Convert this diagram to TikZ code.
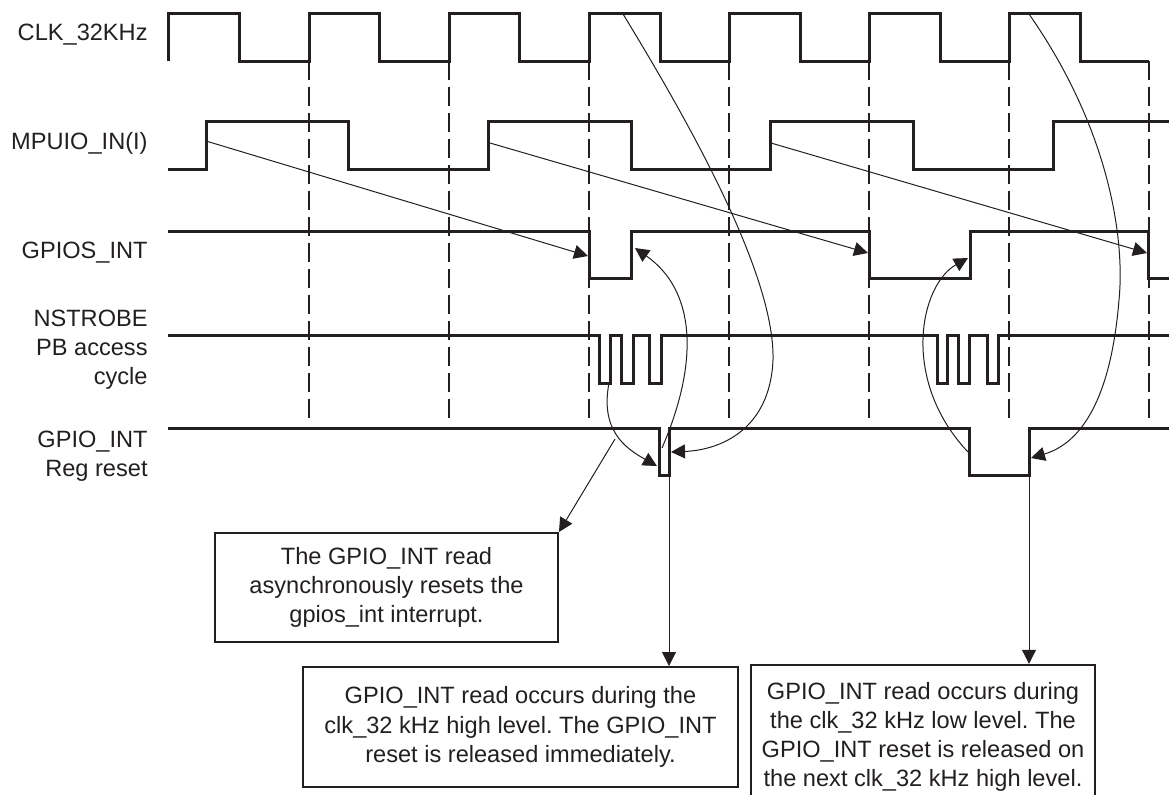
\documentclass[tikz,border=0pt]{standalone}
\usepackage{fontspec}
\setmainfont{Liberation Sans}
\usetikzlibrary{arrows.meta}
\definecolor{rInk}{RGB}{35,31,32}
\frenchspacing

\begin{document}
\begin{tikzpicture}[
			x=0.5pt,y=-0.5pt,
			font=\fontsize{11.8pt}{14.6pt}\selectfont,
			sig/.style={draw=rInk,line width=1.5pt},
			gl/.style={draw=rInk,line width=0.7pt,dash pattern=on 9.5pt off 3.5pt},
			lab/.style={anchor=east,align=right,inner sep=0pt,text=rInk},
			note/.style={draw=rInk,line width=1pt,align=center,inner sep=0pt,text=rInk},
			lnk/.style={draw=rInk,line width=0.5pt,-{Triangle[length=7pt,width=7pt]}}
			]
			\useasboundingbox (0,0) rectangle (1169,794);
			\node[lab](clk) at (148,35) {CLK\_32KHz};
			\node[lab](mpu) at (148,143) {MPUIO\_IN(I)};
			\node[lab](gps) at (148,253) {GPIOS\_INT};
			\node[lab](nst) at (148,350) {NSTROBE\\PB access\\cycle};
			\node[lab](rst) at (148,456) {GPIO\_INT\\Reg reset};
			\draw[gl] (309,61) -- (309,423);
			\draw[gl] (449,61) -- (449,423);
			\draw[gl] (589,61) -- (589,423);
			\draw[gl] (729,61) -- (729,423);
			\draw[gl] (869,61) -- (869,423);
			\draw[gl] (1009,61) -- (1009,423);
			\draw[gl] (1149,61) -- (1149,423);
			\draw[sig] (168,61) -- (168,13) -- (239,13) -- (239,61) -- (309,61) -- (309,13) -- (379,13) -- (379,61)
				-- (449,61) -- (449,13) -- (519,13) -- (519,61) -- (589,61) -- (589,13) -- (660,13) -- (660,61)
				-- (729,61) -- (729,13) -- (800,13) -- (800,61) -- (869,61) -- (869,13) -- (940,13) -- (940,61)
				-- (1009,61) -- (1009,13) -- (1080,13) -- (1080,61) -- (1149,61);
			\draw[sig] (168,169) -- (206,169) -- (206,121) -- (348,121) -- (348,169) -- (488,169) -- (488,121)
				-- (631,121) -- (631,169) -- (770,169) -- (770,121) -- (913,121) -- (913,169) -- (1053,169)
				-- (1053,121) -- (1169,121);
			\draw[sig] (168,231) -- (589,231) -- (589,278) -- (631,278) -- (631,231) -- (869,231) -- (869,278)
				-- (970,278) -- (970,231) -- (1148,231) -- (1148,278) -- (1169,278);
			\draw[sig] (168,335) -- (599,335) -- (599,383) -- (610,383) -- (610,335) -- (621,335) -- (621,383)
				-- (633,383) -- (633,335) -- (649,335) -- (649,383) -- (661,383) -- (661,335) -- (937,335)
				-- (937,383) -- (947,383) -- (947,335) -- (958,335) -- (958,383) -- (969,383) -- (969,335)
				-- (987,335) -- (987,383) -- (998,383) -- (998,335) -- (1169,335);
			\draw[sig] (168,428) -- (659,428) -- (659,475) -- (669,475) -- (669,428) -- (969,428) -- (969,475)
				-- (1029,475) -- (1029,428) -- (1169,428);
			\node[note,minimum width=171.5pt,minimum height=54.5pt](a) at (386.5,587.5) {
				The GPIO\_INT read\\
				asynchronously resets the\\
				gpios\_int interrupt.
			};
			\node[note,minimum width=217.5pt,minimum height=60pt](b) at (520.5,727) {
				GPIO\_INT read occurs during the\\
				clk\_32 kHz high level. The GPIO\_INT\\
				reset is released immediately.
			};
			\node[note,minimum width=172pt,minimum height=72.2pt](c) at (923,737) {
				GPIO\_INT read occurs during\\
				the clk\_32 kHz low level. The\\
				GPIO\_INT reset is released on\\
				the next clk\_32 kHz high level.
			};
			\coordinate (m1) at (206,141);
			\coordinate (m2) at (490,143);
			\coordinate (m3) at (771,143);
			\coordinate (g1) at (588,256);
			\coordinate (g2) at (868,253);
			\coordinate (g3) at (1147,253);
			\coordinate (g4) at (635,248);
			\coordinate (g5) at (968,258);
			\coordinate (k1) at (623,14);
			\coordinate (k2) at (1029,14);
			\coordinate (s1) at (609,383);
			\coordinate (r1) at (657,466);
			\coordinate (r2) at (671,452);
			\coordinate (r3) at (662,448);
			\coordinate (r4) at (615,439);
			\coordinate (r5) at (669,475);
			\coordinate (r6) at (968,452);
			\coordinate (r7) at (1031,458);
			\coordinate (r8) at (1029,475);
			\draw[lnk] (m1) -- (g1);
			\draw[lnk] (m2) -- (g2);
			\draw[lnk] (m3) -- (g3);
			\draw[lnk] (k1) .. controls (700,140) and (775,280) .. (773,360) .. controls (770,430) and (720,450) .. (r2);
			\draw[lnk] (s1) .. controls (600,430) and (625,448) .. (r1);
			\draw[lnk] (r3) .. controls (700,360) and (695,290) .. (g4);
			\draw[lnk] (r4) -- (a.north east);
			\draw[lnk] (r5) -- (r5 |- b.north);
			\draw[lnk] (r6) .. controls (900,380) and (920,285) .. (g5);
			\draw[lnk] (k2) .. controls (1110,130) and (1125,240) .. (1119,300) .. controls (1110,410) and (1075,445) .. (r7);
			\draw[lnk] (r8) -- (r8 |- c.north);
		\end{tikzpicture}
\end{document}
